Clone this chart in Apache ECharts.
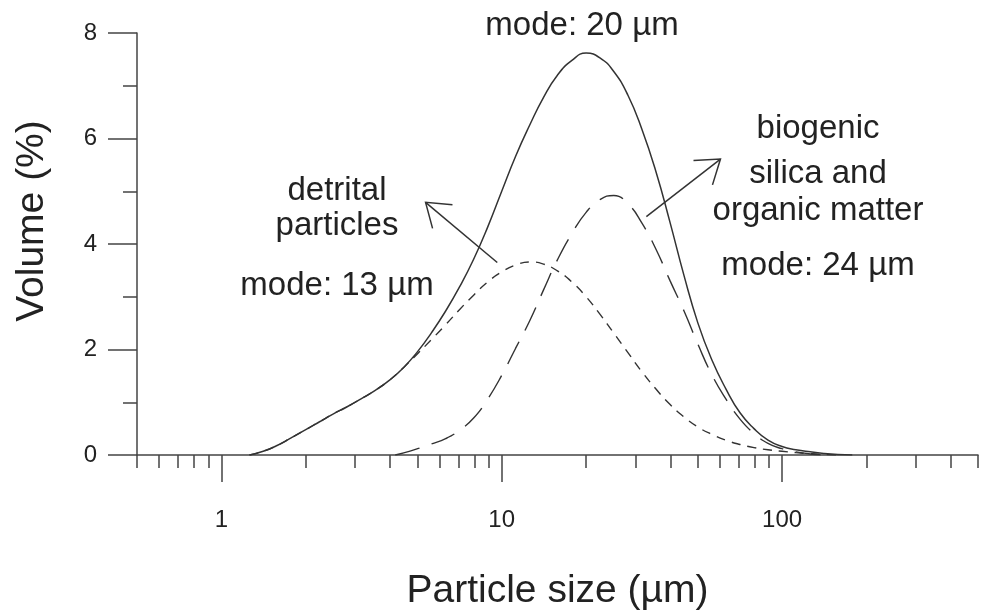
<!DOCTYPE html>
<html><head><meta charset="utf-8">
<script src="https://cdn.jsdelivr.net/npm/echarts@6/dist/echarts.min.js"></script>
<style>html,body{margin:0;padding:0;background:#fff}#c{width:981px;height:616px}</style>
</head><body><div id="c"></div>
<script>
// ---- data (particle size classes in µm, volume in %) ----
const totalSize = [1.26, 1.41, 1.58, 1.78, 2.0, 2.24, 2.51, 2.82, 3.16, 3.55, 3.98, 4.47, 5.01, 5.62, 6.31, 7.08, 7.94, 8.91, 10, 11.2, 12.6, 14.1, 15.8, 17.8, 20, 22.4, 25.1, 28.2, 31.6, 35.5, 39.8, 44.7, 50.1, 56.2, 63.1, 70.8, 79.4, 89.1, 100, 112, 126, 141, 158, 178];
const totalVol  = [0, 0.07, 0.18, 0.33, 0.48, 0.63, 0.78, 0.92, 1.07, 1.23, 1.42, 1.66, 1.96, 2.32, 2.73, 3.19, 3.71, 4.32, 5.0, 5.66, 6.26, 6.78, 7.2, 7.48, 7.62, 7.53, 7.27, 6.82, 6.18, 5.37, 4.42, 3.40, 2.50, 1.80, 1.25, 0.80, 0.50, 0.28, 0.16, 0.10, 0.06, 0.03, 0.01, 0];

const detritalSize = [1.26, 1.41, 1.58, 1.78, 2.0, 2.24, 2.51, 2.82, 3.16, 3.55, 3.98, 4.47, 5.01, 5.62, 6.31, 7.08, 7.94, 8.91, 10, 11.2, 12.6, 14.1, 15.8, 17.8, 20, 22.4, 25.1, 28.2, 31.6, 35.5, 39.8, 44.7, 50.1, 56.2, 63.1, 70.8, 79.4, 89.1, 100, 112, 126, 141, 158];
const detritalVol  = [0, 0.07, 0.18, 0.33, 0.48, 0.63, 0.78, 0.92, 1.07, 1.23, 1.42, 1.66, 1.92, 2.19, 2.47, 2.76, 3.03, 3.28, 3.47, 3.60, 3.66, 3.62, 3.49, 3.28, 3.00, 2.67, 2.31, 1.94, 1.58, 1.25, 0.96, 0.72, 0.53, 0.39, 0.28, 0.20, 0.14, 0.10, 0.07, 0.045, 0.025, 0.01, 0];

const biogenicSize = [4.17, 4.47, 5.01, 5.62, 6.31, 7.08, 7.94, 8.91, 10, 11.2, 12.6, 14.1, 15.8, 17.8, 20, 22.4, 25.1, 28.2, 31.6, 35.5, 39.8, 44.7, 50.1, 56.2, 63.1, 70.8, 79.4, 89.1, 100, 112, 126, 141];
const biogenicVol  = [0, 0.04, 0.12, 0.21, 0.31, 0.47, 0.70, 1.06, 1.51, 2.02, 2.55, 3.13, 3.70, 4.20, 4.60, 4.84, 4.92, 4.76, 4.40, 3.90, 3.31, 2.73, 2.10, 1.52, 1.06, 0.68, 0.41, 0.22, 0.12, 0.06, 0.02, 0];

const xMajorTicks = [1, 10, 100];
const xMinorTicks = [0.5, 0.6, 0.7, 0.8, 0.9, 2, 3, 4, 5, 6, 7, 8, 9, 20, 30, 40, 50, 60, 70, 80, 90, 200, 300, 400, 500];

// annotations: text lines and arrows (arrows anchored in data space)
const textLines = [
  {t: 'mode: 20 µm', x: 582, y: 26},
  {t: 'detrital', x: 337, y: 191},
  {t: 'particles', x: 337, y: 226},
  {t: 'mode: 13 µm', x: 337, y: 286},
  {t: 'biogenic', x: 818, y: 129},
  {t: 'silica and', x: 818, y: 174},
  {t: 'organic matter', x: 818, y: 211},
  {t: 'mode: 24 µm', x: 818, y: 266}
];
const arrows = [
  {from: [9.64, 3.65], to: [5.35, 4.79]},
  {from: [32.8, 4.52], to: [60.3, 5.61]}
];

const FONT = '"Liberation Sans", Arial, Helvetica, sans-serif';
const AX = '#444';
const TXT = '#222';
const LINE = '#333';

const zip = (a, b) => a.map((v, i) => [v, b[i]]);

const chart = echarts.init(document.getElementById('c'));
const xCommon = {type: 'log', logBase: 10, min: 0.5, max: 500, position: 'bottom', splitLine: {show: false}};
chart.setOption({
  animation: false,
  backgroundColor: '#fff',
  grid: {left: 137, right: 3, top: 33, bottom: 141},
  xAxis: [
    Object.assign({}, xCommon, {
      axisLine: {show: true, onZero: false, lineStyle: {color: AX, width: 1.5}},
      axisTick: {show: true, length: 27, customValues: xMajorTicks, lineStyle: {color: AX, width: 1.5}},
      axisLabel: {show: true, customValues: xMajorTicks, margin: 53, fontSize: 24, color: TXT, fontFamily: FONT},
      name: 'Particle size (µm)', nameLocation: 'middle', nameGap: 117,
      nameTextStyle: {fontSize: 39, color: TXT, fontFamily: FONT}
    }),
    Object.assign({}, xCommon, {
      axisLine: {show: false},
      axisTick: {show: true, length: 13, customValues: xMinorTicks, lineStyle: {color: AX, width: 1.5}},
      axisLabel: {show: false}
    })
  ],
  yAxis: {
    type: 'value', min: 0, max: 8, interval: 2,
    axisLine: {show: true, lineStyle: {color: AX, width: 1.5}},
    axisTick: {show: true, length: 29, lineStyle: {color: AX, width: 1.5}},
    minorTick: {show: true, splitNumber: 2, length: 14, lineStyle: {color: AX, width: 1.5}},
    splitLine: {show: false}, minorSplitLine: {show: false},
    axisLabel: {margin: 40, fontSize: 24, color: TXT, fontFamily: FONT}
  },
  series: [
    {name: 'detrital', type: 'line', xAxisIndex: 0, data: zip(detritalSize, detritalVol), showSymbol: false, symbol: 'none',
     smooth: 0.5, lineStyle: {color: LINE, width: 1.4, type: [9, 7]}, z: 2},
    {name: 'biogenic', type: 'line', xAxisIndex: 0, data: zip(biogenicSize, biogenicVol), showSymbol: false, symbol: 'none',
     smooth: 0.5, lineStyle: {color: LINE, width: 1.4, type: [25, 13]}, z: 2},
    {name: 'total', type: 'line', xAxisIndex: 0, data: zip(totalSize, totalVol), showSymbol: false, symbol: 'none',
     smooth: 0.5, lineStyle: {color: LINE, width: 1.5}, z: 3}
  ]
});

// annotations
const graphics = [];
graphics.push({type: 'text', x: 32, y: 221, rotation: Math.PI / 2,
  style: {text: 'Volume (%)', font: '39px ' + FONT, fill: TXT, textAlign: 'center', textVerticalAlign: 'middle'}});
textLines.forEach(l => graphics.push({type: 'text', x: l.x, y: l.y,
  style: {text: l.t, font: '33px ' + FONT, fill: TXT, textAlign: 'center', textVerticalAlign: 'middle'}}));
const WING = 27, ANG = 35 * Math.PI / 180;
arrows.forEach(a => {
  const p0 = chart.convertToPixel({xAxisIndex: 0, yAxisIndex: 0}, a.from);
  const p1 = chart.convertToPixel({xAxisIndex: 0, yAxisIndex: 0}, a.to);
  const back = Math.atan2(p0[1] - p1[1], p0[0] - p1[0]);
  const w1 = [p1[0] + WING * Math.cos(back + ANG), p1[1] + WING * Math.sin(back + ANG)];
  const w2 = [p1[0] + WING * Math.cos(back - ANG), p1[1] + WING * Math.sin(back - ANG)];
  const st = {stroke: LINE, lineWidth: 1.5, fill: null};
  graphics.push({type: 'polyline', shape: {points: [p0, p1]}, style: st, z: 10});
  graphics.push({type: 'polyline', shape: {points: [w1, p1, w2]}, style: st, z: 10});
});
chart.setOption({graphic: graphics});
</script>
</body></html>
